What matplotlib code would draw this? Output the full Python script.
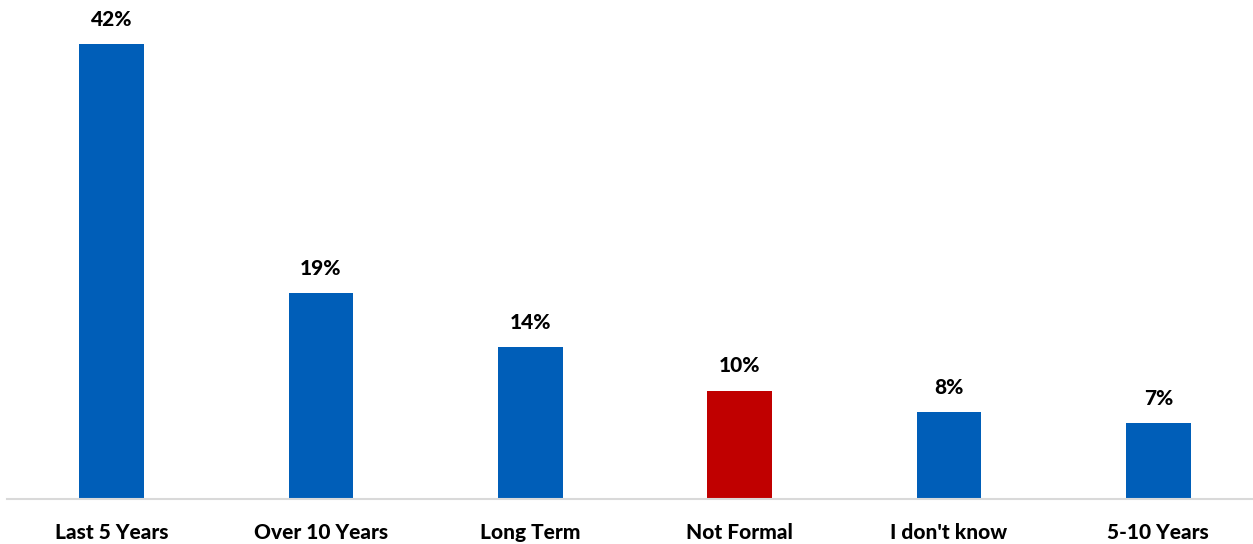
import matplotlib.pyplot as plt

categories = ["Last 5 Years", "Over 10 Years", "Long Term", "Not Formal", "I don't know", "5-10 Years"]
values = [42, 19, 14, 10, 8, 7]
colors = ["#005EB8", "#005EB8", "#005EB8", "#C00000", "#005EB8", "#005EB8"]

plt.rcParams['font.family'] = ['Lato', 'DejaVu Sans']

W, H = 1253, 544
fig = plt.figure(figsize=(W / 100, H / 100), dpi=100)
left_px, right_px = 7, 1263
bottom_px, top_px = 45, 534
ax = fig.add_axes([left_px / W, bottom_px / H, (right_px - left_px) / W, (top_px - bottom_px) / H])

x = range(len(categories))
ax.bar(x, values, width=0.31, color=colors, zorder=2)
for xi, v in zip(x, values):
    ax.annotate(f"{v}%", (xi, v), xytext=(0, 11), textcoords="offset points",
                ha="center", va="bottom", fontsize=15, fontweight=900, color="black")

ax.set_xlim(-0.5, len(categories) - 0.5)
ax.set_ylim(0, 45.15)
ax.set_xticks(list(x))
ax.set_xticklabels(categories, fontsize=15, fontweight=900)
ax.tick_params(axis="x", length=0, pad=17)
ax.set_yticks([])
for s in ["top", "right", "left"]:
    ax.spines[s].set_visible(False)
ax.spines["bottom"].set_color("#D9D9D9")
ax.spines["bottom"].set_linewidth(1.5)

fig.savefig("out.png", dpi=100)
